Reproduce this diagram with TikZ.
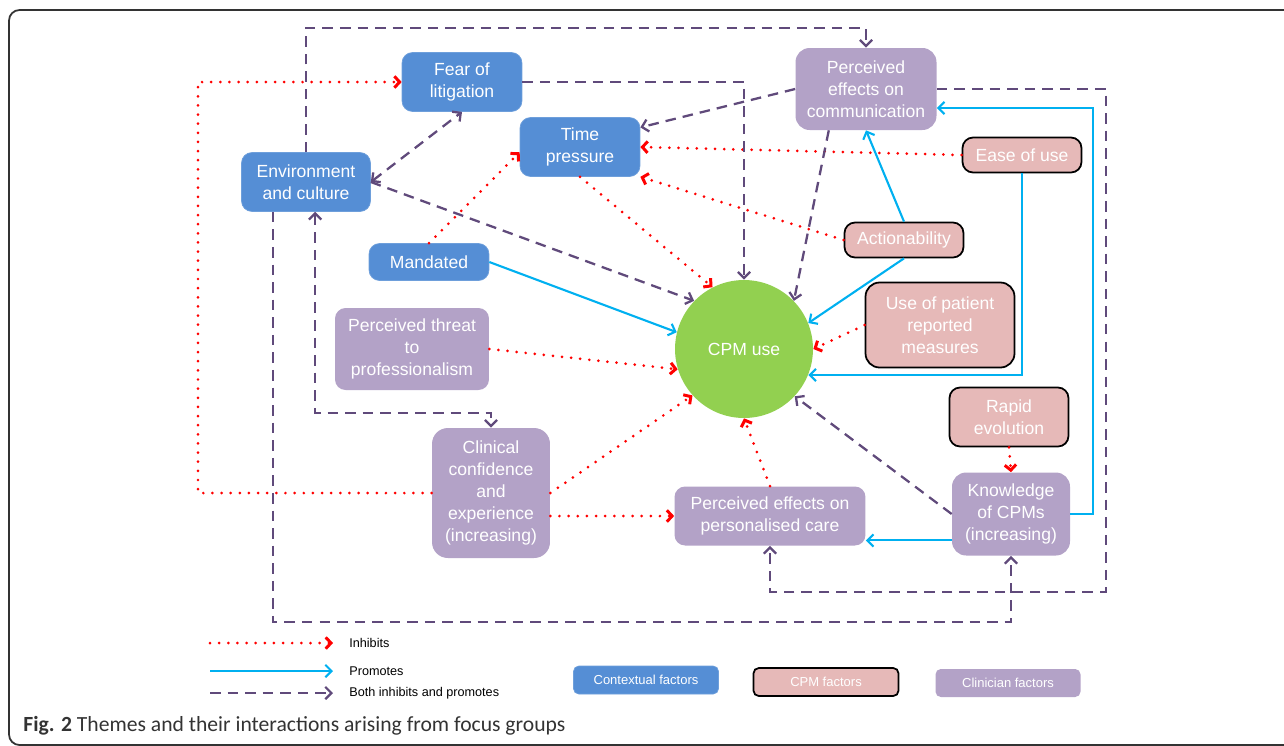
\documentclass[tikz,border=0pt]{standalone}
\usepackage{fontspec}
\setmainfont{Liberation Sans}
\newfontfamily\capfont{Carlito}
\usepackage{tikz}
\usetikzlibrary{arrows.meta,positioning,calc}

\definecolor{ctxblue}{RGB}{85,142,213}
\definecolor{cpmpink}{RGB}{230,185,184}
\definecolor{clinpurple}{RGB}{179,162,199}
\definecolor{usegreen}{RGB}{146,208,80}
\definecolor{prosky}{RGB}{0,176,240}
\definecolor{bothpurple}{RGB}{96,74,123}

\tikzset{
  factor/.style={rounded corners=6pt,text=white,align=center,inner sep=1pt,font=\fontsize{10}{12.5}\selectfont},
  ctx/.style={factor,fill=ctxblue,draw=ctxblue!85!white},
  cpmf/.style={factor,fill=cpmpink,draw=black,line width=1pt},
  clin/.style={factor,fill=clinpurple},
  inh/.style={red,line width=1.7pt,line cap=round,dash pattern=on 0pt off 5.2pt,-{Straight Barb[length=3pt,width=6.5pt,line cap=butt]}},
  pro/.style={prosky,line width=1.2pt,-{Straight Barb[length=3.5pt,width=7pt]}},
  both/.style={bothpurple,line width=1.3pt,dash pattern=on 6pt off 4pt,-{Straight Barb[length=3.5pt,width=7pt]}},
  legtxt/.style={anchor=west,inner sep=0pt,font=\fontsize{7.2}{9}\selectfont},
  legbox/.style={minimum width=2.9cm,minimum height=0.56cm,rounded corners=3pt,font=\fontsize{7.4}{9}\selectfont}
}

\begin{document}
\begin{tikzpicture}[x=0.02cm,y=-0.02cm]
\useasboundingbox (0,0) rectangle (1284,745);
\draw[black!80,line width=1pt,rounded corners=6pt] (9,10) rectangle (1330,745);

% themes
\node[ctx,minimum width=2.4cm,minimum height=1.18cm] (fear) at (462,82) {Fear of\\litigation};
\node[ctx,minimum width=2.4cm,minimum height=1.18cm] (time) at (580,147) {Time\\pressure};
\node[ctx,minimum width=2.58cm,minimum height=1.18cm] (env) at (306,182) {Environment\\and culture};
\node[ctx,minimum width=2.4cm,minimum height=0.74cm] (mand) at (429,262) {Mandated};
\node[clin,minimum width=3.08cm,minimum height=1.64cm] (threat) at (412,349) {Perceived threat\\to\\professionalism};
\node[clin,minimum width=2.36cm,minimum height=2.6cm,rounded corners=9pt] (conf) at (491,493) {Clinical\\confidence\\and\\experience\\(increasing)};
\node[clin,minimum width=3.82cm,minimum height=1.18cm] (pcare) at (770,516) {Perceived effects on\\personalised care};
\node[clin,minimum width=2.36cm,minimum height=1.66cm,rounded corners=8pt] (know) at (1011,514) {Knowledge\\of CPMs\\(increasing)};
\node[cpmf,minimum width=2.38cm,minimum height=1.18cm] (rapid) at (1009,417) {Rapid\\evolution};
\node[cpmf,minimum width=2.98cm,minimum height=1.7cm,rounded corners=8pt] (prm) at (940,325) {Use of patient\\reported\\measures};
\node[cpmf,minimum width=2.38cm,minimum height=0.7cm] (act) at (904,240) {Actionability};
\node[cpmf,minimum width=2.38cm,minimum height=0.7cm] (ease) at (1022,155) {Ease of use};
\node[clin,minimum width=2.82cm,minimum height=1.64cm,rounded corners=8pt] (pcomm) at (866,89) {Perceived\\effects on\\communication};
\node[circle,fill=usegreen,text=white,minimum size=2.76cm,font=\fontsize{10}{12.5}\selectfont] (cpm) at (744,349) {CPM use};

% bends
\coordinate (lbend) at (198,82);
\coordinate (tbend) at (866,28);
\coordinate (rbend) at (1106,592);
\coordinate (bbend) at (1011,622);
\coordinate (cbend) at (491,413);

% inhibits
\draw[inh] (conf.west) -| (lbend) -- (fear.west);
\draw[inh] (mand.north) -- ([yshift=-3pt]time.west);
\draw[inh] (ease.west) -- (time.east);
\draw[inh] (act.west) -- (time.south east);
\draw[inh] (time.south) -- (cpm.117);
\draw[inh] (threat.east) -- (cpm.197);
\draw[inh] (conf.east) -- (cpm.222);
\draw[inh] (conf.east |- pcare.west) -- (pcare.west);
\draw[inh] (pcare.north) -- (cpm.south);
\draw[inh] (prm.west) -- (cpm.east);
\draw[inh] (rapid.south) -- (know.north);

% promotes
\draw[pro] (mand.east) -- (cpm.166);
\draw[pro] (act.north) -- (pcomm.south);
\draw[pro] (act.south) -- (cpm.22);
\draw[pro] (ease.south) |- (cpm.-22);
\draw[pro] (know.east) -- ++(23,0) |- (pcomm.-15);
\draw[pro] (know.204) -- (know.204 -| pcare.east);

% both
\draw[both] (env.north) |- (tbend) -- (pcomm.north);
\draw[both,{Straight Barb[length=3.5pt,width=7pt]}-{Straight Barb[length=3.5pt,width=7pt]}] (env.east) -- (fear.south);
\draw[both] (env.east) -- (cpm.136);
\draw[both] (fear.east) -| (cpm.north);
\draw[both] (pcomm.east) -| (rbend) -| (pcare.south);
\draw[both] (pcomm.west) -- (time.18);
\draw[both] (pcomm.228) -- (cpm.44);
\draw[both] (env.222) |- (bbend) -- (know.south);
\draw[both,{Straight Barb[length=3.5pt,width=7pt]}-{Straight Barb[length=3.5pt,width=7pt]}] (env.287) |- (cbend) -- (conf.north);
\draw[both] (know.west) -- (cpm.-43);

% legend
\coordinate (li) at (210,643);
\coordinate (lp) at (210,671);
\coordinate (lb) at (210,693);
\node[legtxt] (tinh) at (349,643) {Inhibits};
\node[legtxt] (tpro) at (349,671) {Promotes};
\node[legtxt] (tboth) at (349,693) {Both inhibits and promotes};
\draw[inh] (li) -- ++(123,0);
\draw[pro] (lp) -- ++(123,0);
\draw[both] (lb) -- ++(123,0);
\node[ctx,legbox] (kctx) at (646,680) {Contextual factors};
\node[cpmf,legbox] (kcpm) at (826,682) {CPM factors};
\node[clin,legbox] (kclin) at (1008,683) {Clinician factors};

% caption
\node[anchor=west,inner sep=0pt,text=black!80,font=\capfont\fontsize{12.3}{14}\selectfont] (cap) at (23,726) {\textbf{Fig. 2} Themes and their interactions arising from focus groups};
\end{tikzpicture}
\end{document}
